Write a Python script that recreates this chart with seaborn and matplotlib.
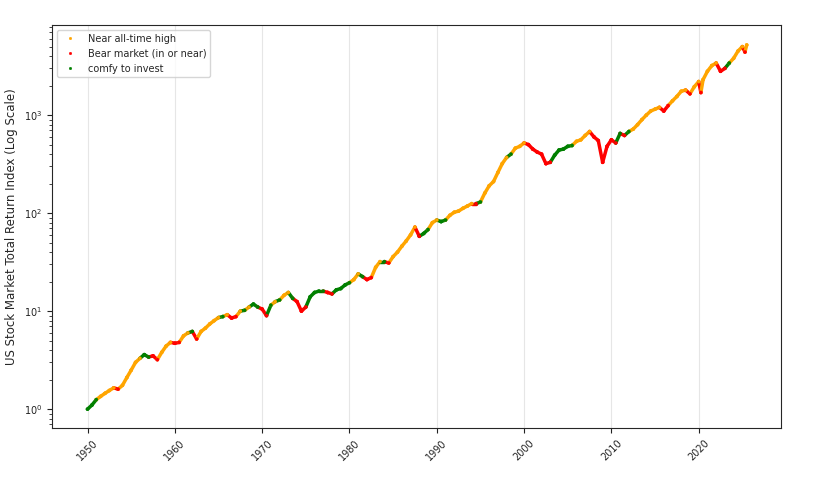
import numpy as np
import pandas as pd
import matplotlib
matplotlib.use("Agg")
import matplotlib.pyplot as plt
import seaborn as sns

sns.set_style("white")

# semiannual readings from the chart: (year, index, state)
years = [1950.0, 1950.5, 1951.0, 1951.5, 1952.0, 1952.5, 1953.0, 1953.5, 1954.0, 1954.5,
         1955.0, 1955.5, 1956.0, 1956.5, 1957.0, 1957.5, 1958.0, 1958.5, 1959.0, 1959.5,
         1960.0, 1960.5, 1961.0, 1961.5, 1962.0, 1962.5, 1963.0, 1963.5, 1964.0, 1964.5,
         1965.0, 1965.5, 1966.0, 1966.5, 1967.0, 1967.5, 1968.0, 1968.5, 1969.0, 1969.5,
         1970.0, 1970.5, 1971.0, 1971.5, 1972.0, 1972.5, 1973.0, 1973.5, 1974.0, 1974.5,
         1975.0, 1975.5, 1976.0, 1976.5, 1977.0, 1977.5, 1978.0, 1978.5, 1979.0, 1979.5,
         1980.0, 1980.5, 1981.0, 1981.5, 1982.0, 1982.5, 1983.0, 1983.5, 1984.0, 1984.5,
         1985.0, 1985.5, 1986.0, 1986.5, 1987.0, 1987.5, 1988.0, 1988.5, 1989.0, 1989.5,
         1990.0, 1990.5, 1991.0, 1991.5, 1992.0, 1992.5, 1993.0, 1993.5, 1994.0, 1994.5,
         1995.0, 1995.5, 1996.0, 1996.5, 1997.0, 1997.5, 1998.0, 1998.5, 1999.0, 1999.5,
         2000.0, 2000.5, 2001.0, 2001.5, 2002.0, 2002.5, 2003.0, 2003.5, 2004.0, 2004.5,
         2005.0, 2005.5, 2006.0, 2006.5, 2007.0, 2007.5, 2008.0, 2008.5, 2009.0, 2009.5,
         2010.0, 2010.5, 2011.0, 2011.5, 2012.0, 2012.5, 2013.0, 2013.5, 2014.0, 2014.5,
         2015.0, 2015.5, 2016.0, 2016.5, 2017.0, 2017.5, 2018.0, 2018.5, 2019.0, 2019.5,
         2020.0, 2020.25, 2020.5, 2021.0, 2021.5, 2022.0, 2022.5, 2023.0, 2023.5, 2024.0,
         2024.5, 2025.0, 2025.3, 2025.5]
index = [1.0, 1.1, 1.25, 1.35, 1.45, 1.55, 1.65, 1.6, 1.75, 2.1,
         2.5, 3.0, 3.3, 3.6, 3.4, 3.5, 3.2, 3.8, 4.4, 4.8,
         4.7, 4.8, 5.6, 6.0, 6.2, 5.2, 6.2, 6.7, 7.4, 8.0,
         8.6, 8.8, 9.2, 8.5, 8.8, 10.0, 10.2, 11.0, 11.8, 11.0,
         10.5, 9.0, 11.5, 12.5, 13.0, 14.5, 15.5, 13.5, 12.5, 10.0,
         11.0, 14.0, 15.5, 16.0, 16.0, 15.5, 15.0, 16.5, 17.0, 18.5,
         19.5, 21.0, 24.0, 22.5, 21.0, 22.0, 28.0, 32.0, 32.0, 31.0,
         36.0, 40.0, 46.0, 52.0, 60.0, 72.0, 58.0, 62.0, 68.0, 80.0,
         85.0, 82.0, 85.0, 95.0, 102, 105, 112, 118, 125, 125,
         130, 160, 190, 210, 260, 320, 370, 400, 460, 480,
         520, 500, 450, 420, 400, 320, 330, 390, 440, 450,
         480, 490, 540, 560, 620, 680, 600, 550, 330, 480,
         560, 520, 650, 620, 680, 720, 800, 900, 1000, 1100,
         1150, 1200, 1100, 1250, 1400, 1550, 1750, 1800, 1650, 1950,
         2200, 1700, 2300, 2800, 3200, 3400, 2800, 3000, 3400, 3800,
         4500, 5000, 4400, 5200]
state = list("GGGOOOOROO"
             "OOOGGRROOO"
             "RROOGROOOO"
             "OGORROGOGG"
             "RRGOGOOGRR"
             "RGGGGRRGGG"
             "GOOGRROOGR"
             "OOOOOORGGO"
             "OGGOOOOOOR"
             "GOOOOOOGOO"
             "ORRRRRRGGG"
             "GGOOOORRRR"
             "RRGRGOOOOO"
             "OORROOOORO"
             "OROOOORRGO"
             "OORO")

labels = {"O": "Near all-time high", "R": "Bear market (in or near)", "G": "comfy to invest"}
colors = {"Near all-time high": "orange", "Bear market (in or near)": "red", "comfy to invest": "green"}

df = pd.DataFrame({"year": years, "index": index, "state": [labels[s] for s in state]})

fig, ax = plt.subplots(figsize=(8.21, 4.91), dpi=100)
for i in range(1, len(df)):
    ax.plot(df["year"].iloc[i-1:i+1], df["index"].iloc[i-1:i+1],
            color=colors[df["state"].iloc[i]], lw=2.5, solid_capstyle="round")
sns.scatterplot(data=df, x="year", y="index", hue="state", palette=colors,
                hue_order=list(colors), s=6, edgecolor=None, ax=ax, zorder=3)

ax.set_yscale("log")
ax.set_xlim(1945.9, 2029.4)
ax.set_ylim(0.64, 8300)
ax.set_xticks(range(1950, 2030, 10))
ax.tick_params(axis="x", labelrotation=45, labelsize=7, colors="#222222")
ax.tick_params(axis="y", labelsize=7, colors="#222222")
ax.tick_params(which="both", left=True, bottom=True)
ax.grid(axis="x", color="#e6e6e6", lw=0.8)
ax.set_xlabel("")
ax.set_ylabel("US Stock Market Total Return Index (Log Scale)", fontsize=8.5)
ax.legend(loc="upper left", fontsize=7, markerscale=0.8)
plt.subplots_adjust(left=0.063, right=0.951, top=0.949, bottom=0.128)
plt.savefig("out.png")
